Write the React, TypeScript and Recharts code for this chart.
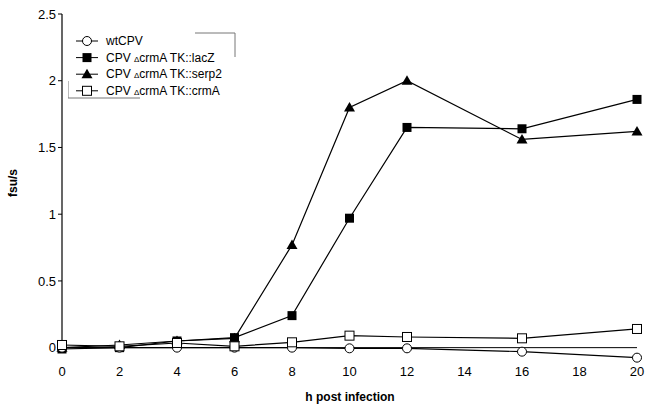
import { LineChart, Line, XAxis, YAxis, ReferenceLine } from "recharts";

const hours = [0, 2, 4, 6, 8, 10, 12, 16, 20];
const wtCPV = [0, 0, 0, 0, 0, -0.005, -0.005, -0.03, -0.075];
const lacZ = [-0.01, 0, 0.05, 0.075, 0.24, 0.97, 1.65, 1.64, 1.86];
const serp2 = [0, 0.02, 0.05, 0.07, 0.77, 1.8, 2.0, 1.56, 1.62];
const crmA = [0.02, 0.01, 0.035, 0.01, 0.04, 0.09, 0.08, 0.07, 0.14];

const xTicks = [0, 2, 4, 6, 8, 10, 12, 14, 16, 18, 20];
const yTicks = [0, 0.5, 1, 1.5, 2, 2.5];

const data = hours.map((h, i) => ({
  h,
  wtCPV: wtCPV[i],
  lacZ: lacZ[i],
  serp2: serp2[i],
  crmA: crmA[i],
}));

const FONT = "'Liberation Sans', Arial, sans-serif";

type Kind = "circle" | "square" | "triangle" | "openSquare";

const Marker = ({ kind, cx, cy }: { kind: Kind; cx: number; cy: number }) => {
  if (kind === "circle")
    return <circle cx={cx} cy={cy} r={4.5} fill="#fff" stroke="#000" strokeWidth={1} />;
  if (kind === "square")
    return <rect x={cx - 4.5} y={cy - 4.5} width={9} height={9} fill="#000" />;
  if (kind === "openSquare")
    return <rect x={cx - 4.5} y={cy - 4.5} width={9} height={9} fill="#fff" stroke="#000" strokeWidth={1} />;
  return <path d={`M${cx},${cy - 5.5}L${cx + 5.5},${cy + 4}L${cx - 5.5},${cy + 4}Z`} fill="#000" />;
};

const dotFor = (kind: Kind) => (props: any) => (
  <Marker key={`${kind}-${props.index}`} kind={kind} cx={props.cx} cy={props.cy} />
);

const legendItems: { kind: Kind; label: React.ReactNode }[] = [
  { kind: "circle", label: "wtCPV" },
  { kind: "square", label: <>CPV <tspan fontSize={8}>Δ</tspan>crmA TK::lacZ</> },
  { kind: "triangle", label: <>CPV <tspan fontSize={8}>Δ</tspan>crmA TK::serp2</> },
  { kind: "openSquare", label: <>CPV <tspan fontSize={8}>Δ</tspan>crmA TK::crmA</> },
];

// the scanned legend frame is broken: only two corners survive
const LegendBox = () => (
  <svg width={175} height={75} style={{ display: "block" }}>
    <path d="M127,5H167V29" fill="none" stroke="#777" strokeWidth={1} />
    <path d="M0,53V70H72" fill="none" stroke="#777" strokeWidth={1} />
    {legendItems.map((it, i) => {
      const y = 13 + i * 16.6;
      return (
        <g key={i}>
          <line x1={8} x2={30} y1={y} y2={y} stroke="#000" strokeWidth={1} />
          <Marker kind={it.kind} cx={19} cy={y} />
          <text x={38} y={y + 4} fontSize={12} fontFamily={FONT} fill="#000">
            {it.label}
          </text>
        </g>
      );
    })}
  </svg>
);

export default function App() {
  return (
    <div style={{ position: "absolute", left: 0, top: 0, width: 646, height: 405, background: "#fff" }}>
      <LineChart width={646} height={405} data={data} margin={{ top: 14, right: 9, bottom: 14, left: 0 }}>
        <XAxis
          dataKey="h"
          type="number"
          domain={[0, 20]}
          ticks={xTicks}
          axisLine={false}
          tickLine={false}
          height={30}
          tick={{ fontSize: 13, fontFamily: FONT, fill: "#000" }}
          tickMargin={0}
        />
        <YAxis
          width={62}
          domain={[-0.1, 2.5]}
          ticks={yTicks}
          axisLine={false}
          tickSize={4}
          tickLine={{ stroke: "#000" }}
          tick={{ fontSize: 13, fontFamily: FONT, fill: "#000" }}
        />
        <ReferenceLine segment={[{ x: 0, y: -0.02 }, { x: 0, y: 2.5 }]} stroke="#000" strokeWidth={1.2} />
        <ReferenceLine segment={[{ x: 0, y: 0 }, { x: 20, y: 0 }]} stroke="#000" strokeWidth={1} />
        <Line dataKey="lacZ" stroke="#000" strokeWidth={1.2} dot={dotFor("square")} isAnimationActive={false} />
        <Line dataKey="serp2" stroke="#000" strokeWidth={1.2} dot={dotFor("triangle")} isAnimationActive={false} />
        <Line dataKey="wtCPV" stroke="#000" strokeWidth={1.2} dot={dotFor("circle")} isAnimationActive={false} />
        <Line dataKey="crmA" stroke="#000" strokeWidth={1.2} dot={dotFor("openSquare")} isAnimationActive={false} />
        <text x={17} y={183} transform="rotate(-90 17 183)" textAnchor="middle" fontSize={12} fontWeight="bold" fontFamily={FONT}>
          fsu/s
        </text>
        <text x={350} y={401} textAnchor="middle" fontSize={12} fontWeight="bold" fontFamily={FONT}>
          h post infection
        </text>
      </LineChart>
      <div style={{ position: "absolute", left: 68, top: 28 }}>
        <LegendBox />
      </div>
    </div>
  );
}
